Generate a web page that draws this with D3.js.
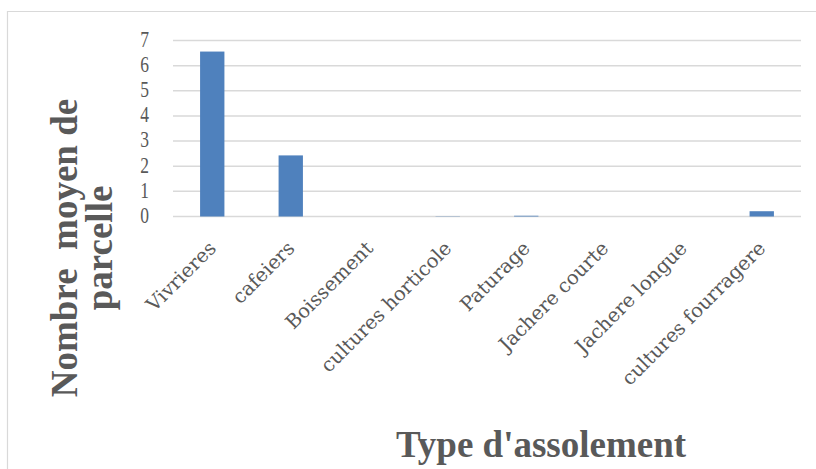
<!DOCTYPE html>
<html>
<head>
<meta charset="utf-8">
<script src="https://cdn.jsdelivr.net/npm/d3@7"></script>
<style>
  html, body { margin: 0; padding: 0; background: #fff; }
  svg { display: block; }
</style>
</head>
<body>
<script>
// Average number of plots per cropping type
const categories = ["Vivrieres", "cafeiers", "Boissement", "cultures horticole", "Paturage", "Jachere courte", "Jachere longue", "cultures fourragere"];
const values = [6.56, 2.43, 0, 0.01, 0.03, 0, 0, 0.21];
const yTicks = [0, 1, 2, 3, 4, 5, 6, 7];
const yTitleLines = ["Nombre  moyen de", "parcelle"];
const xTitle = "Type d'assolement";

const W = 816, H = 469;
const svg = d3.select("body").append("svg").attr("width", W).attr("height", H);

// Chart frame
svg.append("path")
  .attr("d", `M7.5,${H} V11.5 H${W}`)
  .attr("fill", "none").attr("stroke", "#d9d9d9").attr("stroke-width", 1.2);

const x = d3.scaleBand().domain(categories).range([173, 801]).paddingInner(0.69).paddingOuter(0.345);
const y = d3.scaleLinear().domain([0, 7]).range([216.5, 40.5]);

// Gridlines
svg.append("g").selectAll("line").data(yTicks).join("line")
  .attr("x1", 173).attr("x2", 801)
  .attr("y1", d => y(d)).attr("y2", d => y(d))
  .attr("stroke", "#d9d9d9").attr("stroke-width", 1.5);

// Bars
svg.append("g").selectAll("rect").data(values).join("rect")
  .attr("x", (d, i) => x(categories[i]))
  .attr("width", x.bandwidth())
  .attr("y", d => y(d))
  .attr("height", d => y(0) - y(d))
  .attr("fill", "#4f81bd");

// Y axis tick labels (tall, narrow numerals)
const yAxis = d3.axisLeft(y).tickValues(yTicks).tickSize(0).tickPadding(0).tickFormat(d3.format("d"));
const gy = svg.append("g").attr("transform", "translate(149,0)").call(yAxis);
gy.select(".domain").remove();
gy.selectAll("text")
  .attr("font-family", "'Liberation Serif', serif")
  .attr("font-size", 17.5).attr("fill", "#595959")
  .attr("y", 0).attr("dy", "0.25em")
  .attr("transform", "scale(1,1.35)");

// X axis category labels
const xAxis = d3.axisBottom(x).tickSize(0).tickPadding(0);
const gx = svg.append("g").attr("transform", `translate(0,${y(0)})`).call(xAxis);
gx.select(".domain").remove();
gx.selectAll("text")
  .attr("font-family", "'DejaVu Serif', 'Liberation Serif', serif")
  .attr("font-size", 19.5).attr("fill", "#595959")
  .attr("text-anchor", "end")
  .attr("y", 0).attr("dy", 0)
  .attr("transform", "translate(5,33) rotate(-45)");

// Y axis title
const yt = svg.append("text")
  .attr("transform", "translate(0,248) rotate(-90)")
  .attr("text-anchor", "middle")
  .attr("font-family", "'Liberation Serif', 'Times New Roman', serif")
  .attr("font-weight", "bold").attr("font-size", 37).attr("fill", "#595959")
  .style("white-space", "pre");
yTitleLines.forEach((t, i) => {
  yt.append("tspan").attr("x", 0).attr("y", 77 + i * 35).text(t);
});

// X axis title
svg.append("text")
  .attr("x", 541).attr("y", 457)
  .attr("text-anchor", "middle")
  .attr("font-family", "'Liberation Serif', 'Times New Roman', serif")
  .attr("font-weight", "bold").attr("font-size", 37).attr("fill", "#595959")
  .text(xTitle);
</script>
</body>
</html>
